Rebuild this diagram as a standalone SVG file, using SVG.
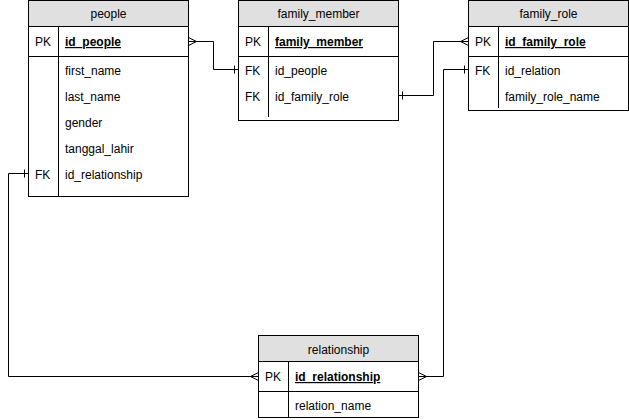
<svg xmlns="http://www.w3.org/2000/svg" width="629" height="420" viewBox="0 0 629 420">
<style>
.box{fill:#ffffff;stroke:#000000;stroke-width:1}
.head{fill:#e0e0e0;stroke:#000000;stroke-width:1}
.ln{stroke:#000000;stroke-width:1;fill:none}
text{font-family:"Liberation Sans",Arial,sans-serif;font-size:12px;fill:#000000}
.t{text-anchor:middle}
.pk{font-weight:bold;text-decoration:underline}
</style>
<rect width="629" height="420" fill="#ffffff"/>
<g id="people">
<rect class="head" x="28.5" y="0.5" width="160" height="26"/>
<rect class="box" x="28.5" y="26.5" width="160" height="170"/>
<line class="ln" x1="28.5" y1="56.5" x2="188.5" y2="56.5"/>
<line class="ln" x1="58.5" y1="26.5" x2="58.5" y2="196.5"/>
<text class="t" x="108.5" y="18">people</text>
<text x="35" y="46">PK</text>
<text class="pk" x="65" y="46">id_people</text>
<text x="65" y="75">first_name</text>
<text x="65" y="101">last_name</text>
<text x="65" y="127">gender</text>
<text x="65" y="153">tanggal_lahir</text>
<text x="35" y="179">FK</text>
<text x="65" y="179">id_relationship</text>
</g>
<g id="family_member">
<rect class="head" x="238.5" y="0.5" width="160" height="26"/>
<rect class="box" x="238.5" y="26.5" width="160" height="94"/>
<line class="ln" x1="238.5" y1="56.5" x2="398.5" y2="56.5"/>
<line class="ln" x1="268.5" y1="26.5" x2="268.5" y2="117"/>
<text class="t" x="318.5" y="18">family_member</text>
<text x="245" y="46">PK</text>
<text class="pk" x="275" y="46">family_member</text>
<text x="245" y="75">FK</text>
<text x="275" y="75">id_people</text>
<text x="245" y="101">FK</text>
<text x="275" y="101">id_family_role</text>
</g>
<g id="family_role">
<rect class="head" x="468.5" y="0.5" width="160" height="26"/>
<rect class="box" x="468.5" y="26.5" width="160" height="84"/>
<line class="ln" x1="468.5" y1="56.5" x2="628.5" y2="56.5"/>
<line class="ln" x1="498.5" y1="26.5" x2="498.5" y2="108"/>
<text class="t" x="548.5" y="18">family_role</text>
<text x="475" y="46">PK</text>
<text class="pk" x="505" y="46">id_family_role</text>
<text x="475" y="75">FK</text>
<text x="505" y="75">id_relation</text>
<text x="505" y="101">family_role_name</text>
</g>
<g id="relationship">
<rect class="head" x="258.5" y="335.5" width="160" height="26"/>
<rect class="box" x="258.5" y="361.5" width="160" height="56"/>
<line class="ln" x1="258.5" y1="391.5" x2="418.5" y2="391.5"/>
<line class="ln" x1="288.5" y1="361.5" x2="288.5" y2="417.5"/>
<text class="t" x="338.5" y="354">relationship</text>
<text x="265" y="381">PK</text>
<text class="pk" x="295" y="381">id_relationship</text>
<text x="295" y="410">relation_name</text>
</g>
<g id="connectors">
<!-- people.id_people -> family_member.id_people -->
<polyline class="ln" points="188.5,41.5 213.5,41.5 213.5,69.5 238.5,69.5"/>
<path class="ln" d="M188.5,37.5 L196.5,41.5 L188.5,45.5"/>
<line class="ln" x1="234.5" y1="65.5" x2="234.5" y2="73.5"/>
<!-- family_member.id_family_role -> family_role.id_family_role -->
<polyline class="ln" points="398.5,95.5 433.5,95.5 433.5,41.5 468.5,41.5"/>
<line class="ln" x1="402.5" y1="91.5" x2="402.5" y2="99.5"/>
<path class="ln" d="M468.5,37.5 L460.5,41.5 L468.5,45.5"/>
<!-- family_role.id_relation -> relationship -->
<polyline class="ln" points="468.5,69.5 443.5,69.5 443.5,376.5 418.5,376.5"/>
<line class="ln" x1="464.5" y1="65.5" x2="464.5" y2="73.5"/>
<path class="ln" d="M418.5,372.5 L426.5,376.5 L418.5,380.5"/>
<!-- people.id_relationship -> relationship -->
<polyline class="ln" points="28.5,173.5 8.5,173.5 8.5,376.5 258.5,376.5"/>
<line class="ln" x1="24.5" y1="169.5" x2="24.5" y2="177.5"/>
<path class="ln" d="M258.5,372.5 L250.5,376.5 L258.5,380.5"/>
</g>
</svg>
